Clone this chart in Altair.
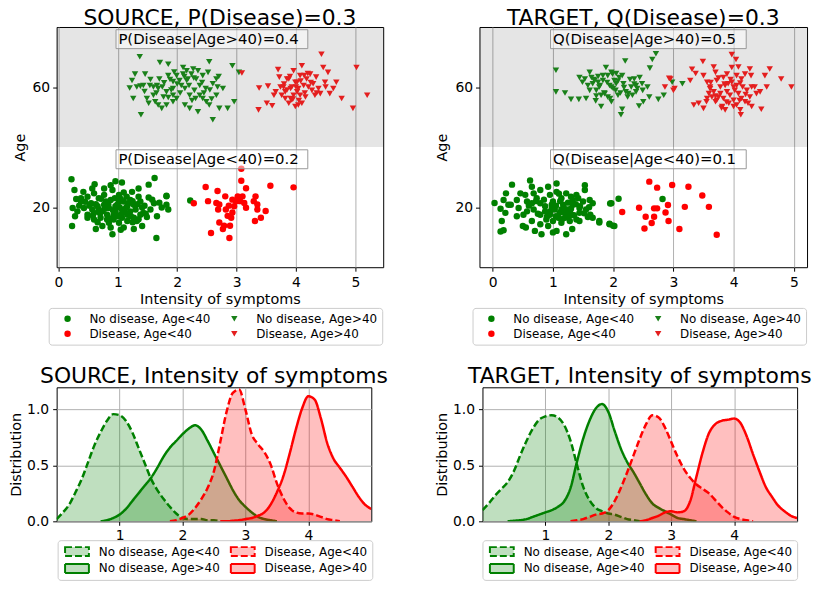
import altair as alt
import pandas as pd

FONT = "DejaVu Sans"
L_ND_Y = "No disease, Age<40"
L_ND_O = "No disease, Age>40"
L_D_Y = "Disease, Age<40"
L_D_O = "Disease, Age>40"
TOP_ORDER = [L_ND_Y, L_D_Y, L_ND_O, L_D_O]
BOT_ORDER = [L_ND_Y, L_ND_O, L_D_Y, L_D_O]

# ---------------- SOURCE scatter ----------------
src_nd_young_x = [0.22, 0.27, 0.23, 0.61, 0.42, 0.30, 0.38, 0.49, 0.60, 0.68, 0.77, 0.88, 0.96, 1.07, 1.10, 1.24, 1.35, 1.52, 1.62, 1.82,
                  1.52, 1.38, 1.21, 1.02, 0.88, 0.77, 0.66, 0.55, 0.43, 0.24, 0.32, 0.49, 0.60, 0.74, 0.85, 0.96, 1.07, 1.16, 1.27, 1.41,
                  1.61, 1.74, 1.85, 1.66, 1.49, 1.38, 1.27, 1.16, 1.05, 0.93, 0.82, 0.71, 0.60, 0.49, 0.63, 0.74, 0.88, 0.91, 0.85, 1.02,
                  1.10, 1.27, 1.41, 1.65, 0.93, 1.16, 1.32, 1.43, 1.55, 1.02, 0.91, 0.77, 0.57, 0.38, 1.21, 1.10, 1.82, 0.68, 0.80, 0.96,
                  1.07, 1.18, 1.30, 0.82, 0.99, 0.57, 1.35, 2.22, 1.82,
                  0.52, 0.63, 0.72, 0.84, 0.95, 1.05, 1.15, 1.25, 1.33, 1.45, 0.58, 0.70, 0.88, 1.00, 1.12, 1.22, 1.35, 1.47, 0.45, 0.35,
                  0.78, 0.92, 1.03, 1.14, 1.25, 0.66, 1.58, 1.70, 0.28, 1.05]
src_nd_young_y = [29.3, 25.7, 13.7, 27.6, 25.1, 22.7, 21.9, 23.5, 24.6, 23.0, 26.2, 27.3, 28.6, 28.2, 24.9, 25.1, 26.2, 27.5, 29.7, 23.8,
                  23.2, 21.9, 22.4, 21.9, 22.4, 20.8, 20.3, 21.3, 19.7, 19.7, 18.6, 17.5, 18.1, 18.6, 19.7, 20.3, 19.2, 20.3, 20.8, 19.9,
                  21.3, 19.9, 19.2, 17.0, 16.7, 17.5, 16.5, 17.5, 17.5, 17.5, 17.5, 16.5, 15.9, 16.5, 12.7, 13.7, 13.2, 11.0, 14.8, 14.8,
                  13.2, 12.7, 13.7, 9.7, 15.9, 15.4, 15.4, 18.1, 19.2, 24.1, 25.7, 24.1, 26.2, 23.0, 18.6, 21.9, 20.8, 19.2, 21.9, 18.6,
                  16.5, 21.3, 19.2, 15.9, 20.8, 19.2, 23.5, 22.2, 23.6,
                  20.5, 21.0, 22.8, 21.0, 23.0, 22.7, 23.5, 22.0, 21.0, 20.5, 17.2, 18.0, 16.2, 17.0, 18.2, 17.0, 16.0, 17.8, 21.8, 20.5,
                  19.5, 19.0, 20.0, 19.8, 15.0, 15.0, 22.5, 21.5, 17.0, 12.5]

src_d_young_x = [2.28, 2.48, 2.52, 2.57, 2.68, 2.66, 2.69, 2.71, 2.77, 2.81, 2.85, 2.88, 2.91, 2.93, 2.96, 2.87, 3.02, 3.06, 3.08, 3.08,
                 3.10, 3.13, 3.16, 3.32, 3.35, 3.31, 3.41, 3.49, 3.57, 3.96, 3.16, 2.93, 2.82, 2.71, 3.35, 3.29, 2.99, 2.89, 2.79]
src_d_young_y = [21.3, 26.7, 22.0, 11.4, 25.4, 21.4, 19.2, 14.9, 12.7, 23.6, 17.1, 9.7, 16.5, 22.5, 20.3, 20.5, 23.6, 22.0, 32.8, 28.8,
                 23.6, 21.4, 19.8, 23.6, 20.9, 15.4, 16.5, 18.7, 27.1, 26.6, 26.3, 18.2, 19.2, 20.9, 19.2, 22.0, 22.0, 13.8, 13.8]

src_nd_old_x = [1.37, 1.20, 1.24, 1.29, 1.38, 1.46, 1.54, 1.66, 1.49, 1.60, 1.71, 1.70, 1.78, 1.85, 1.85, 1.93, 1.82, 1.77, 1.74, 1.39,
                1.26, 1.52, 1.63, 1.68, 1.93, 1.93, 2.04, 2.10, 2.16, 2.24, 2.27, 2.32, 2.38, 2.29, 2.21, 2.13, 2.07, 1.99, 2.52, 2.54,
                2.60, 2.68, 2.66, 2.54, 2.49, 2.43, 2.35, 2.21, 2.13, 1.99, 2.60, 2.71, 2.85, 2.96, 2.93, 3.04, 2.77, 2.38, 2.43, 1.93,
                1.60, 1.43, 1.32, 2.35, 2.18, 2.31, 2.16, 2.48, 2.66, 1.82, 1.68,
                1.55, 1.75, 1.88, 2.00, 2.12, 2.20, 2.28, 2.42, 2.55, 1.65, 1.85, 2.05, 2.25, 2.45, 2.10, 1.95, 1.45, 2.70, 2.58, 1.90]
src_nd_old_y = [70.1, 59.7, 62.2, 64.3, 60.3, 64.3, 60.5, 60.5, 56.2, 57.3, 68.2, 62.7, 61.4, 67.6, 63.8, 61.8, 58.4, 56.7, 52.9, 50.8,
                56.2, 54.6, 55.1, 59.5, 57.3, 55.1, 62.2, 64.3, 65.4, 64.3, 66.0, 62.7, 60.5, 58.9, 57.3, 59.5, 60.5, 63.8, 64.9, 68.4,
                61.1, 60.0, 57.3, 54.0, 55.1, 56.2, 51.8, 52.9, 54.0, 56.2, 49.1, 52.9, 52.9, 55.1, 67.1, 64.9, 59.5, 57.3, 63.8, 59.5,
                60.0, 60.5, 60.0, 65.4, 62.7, 56.2, 62.2, 59.5, 62.7, 54.0, 54.0,
                62.5, 60.0, 62.5, 61.0, 63.5, 60.5, 63.0, 61.5, 59.0, 58.0, 56.5, 58.0, 55.5, 58.0, 66.5, 65.0, 58.5, 63.5, 56.0, 59.0]

src_d_old_x = [3.09, 3.38, 3.37, 3.53, 3.51, 3.60, 3.70, 3.72, 3.66, 3.76, 3.79, 3.82, 3.88, 3.91, 3.93, 3.96, 3.99, 4.02, 4.04, 4.07,
               4.10, 4.13, 4.16, 4.18, 4.24, 4.27, 4.34, 4.38, 4.43, 4.46, 4.49, 4.54, 4.57, 4.63, 4.68, 4.77, 4.96, 5.02, 5.20, 4.32,
               3.85, 3.96, 4.02, 4.07, 4.14, 3.88, 3.99, 3.93, 3.74, 4.04, 4.21, 4.29, 4.41, 3.82, 3.91, 4.10, 3.63,
               3.80, 3.90, 4.00, 4.08, 4.15, 4.25, 3.95, 4.05, 3.85, 4.20, 4.35, 4.50]
src_d_old_y = [64.7, 59.7, 52.4, 60.3, 54.6, 53.8, 65.8, 63.3, 58.4, 57.3, 60.0, 56.2, 62.7, 59.5, 55.7, 65.4, 61.6, 58.4, 54.0, 63.8,
               67.1, 60.5, 56.7, 62.7, 64.3, 58.9, 63.3, 59.5, 70.9, 66.5, 61.6, 64.9, 57.8, 59.5, 61.6, 56.2, 52.9, 66.5, 57.3, 57.3,
               62.7, 57.3, 61.6, 57.3, 63.8, 54.6, 53.5, 60.0, 60.0, 59.5, 60.0, 61.1, 57.8, 58.4, 56.2, 54.6, 57.3,
               61.0, 63.5, 60.0, 62.0, 58.0, 61.5, 56.0, 55.5, 59.0, 64.5, 58.0, 60.0]

# ---------------- TARGET scatter ----------------
tgt_nd_young_x = [0.03, 0.13, 0.21, 0.15, 0.13, 0.18, 0.18, 0.22, 0.32, 0.30, 0.40, 0.43, 0.40, 0.50, 0.55, 0.46, 0.54, 0.62, 0.65, 0.68,
                  0.73, 0.79, 0.65, 0.57, 0.68, 0.79, 0.65, 0.79, 0.81, 0.92, 0.70, 0.87, 0.92, 0.95, 1.00, 1.06, 1.06, 1.14, 1.22, 1.39,
                  1.53, 1.53, 1.50, 1.61, 1.66, 1.55, 1.44, 1.33, 1.25, 1.14, 1.03, 0.95, 1.09, 1.20, 1.31, 1.39, 1.28, 1.14, 1.06, 1.22,
                  1.32, 1.44, 1.58, 1.66, 1.77, 1.94, 2.02, 1.97, 2.09, 1.00, 0.89, 1.17, 1.33, 0.79, 0.57, 0.51, 0.26, 1.00, 0.87, 1.11,
                  1.28, 1.44, 1.22, 0.98, 2.00, 1.94, 2.82, 1.95, 1.77,
                  0.60, 0.72, 0.85, 0.95, 1.05, 1.12, 1.18, 1.25, 1.30, 1.38, 1.45, 1.52, 1.60, 1.05, 1.15, 1.25, 1.35, 0.90, 0.75, 1.42,
                  1.10, 1.20, 1.30, 0.98, 1.62]
tgt_nd_young_y = [21.4, 19.5, 18.1, 15.4, 11.9, 12.3, 22.4, 24.6, 27.5, 20.8, 22.4, 19.7, 17.0, 13.7, 13.2, 24.6, 24.1, 28.9, 26.8, 24.6,
                  23.0, 21.3, 21.3, 18.6, 19.2, 17.5, 15.4, 14.3, 11.0, 13.7, 12.1, 18.6, 26.8, 24.1, 21.9, 27.9, 25.1, 23.0, 24.6, 24.1,
                  27.3, 25.7, 21.9, 22.4, 21.3, 19.2, 19.7, 20.8, 19.2, 19.2, 19.2, 17.5, 16.5, 16.5, 17.5, 15.9, 15.4, 14.8, 12.1, 11.0,
                  12.7, 15.4, 16.7, 16.5, 15.4, 14.5, 13.7, 21.3, 22.8, 15.4, 15.9, 20.8, 22.4, 25.7, 21.9, 17.5, 20.8, 11.6, 20.3, 18.1,
                  18.6, 18.1, 17.5, 20.8, 13.8, 14.3, 22.7, 21.2, 14.9,
                  20.5, 22.0, 22.5, 18.5, 20.5, 22.0, 19.8, 21.5, 19.5, 21.0, 20.3, 18.0, 20.0, 17.0, 16.0, 16.8, 17.3, 16.8, 17.8, 23.0,
                  24.5, 18.0, 23.5, 19.5, 17.5]

tgt_d_young_x = [2.15, 2.43, 2.52, 2.54, 2.60, 2.64, 2.68, 2.68, 2.73, 2.73, 2.87, 2.91, 2.92, 2.98, 3.10, 3.19, 3.25, 3.48, 3.59, 3.72]
tgt_d_young_y = [18.4, 19.8, 12.9, 16.8, 28.5, 14.7, 16.8, 19.6, 26.5, 19.6, 18.2, 20.7, 15.4, 27.4, 12.7, 20.1, 26.8, 23.9, 20.1, 10.8]

tgt_nd_old_x = [1.05, 1.05, 1.20, 1.30, 1.43, 1.44, 1.49, 1.55, 1.61, 1.64, 1.66, 1.71, 1.75, 1.80, 1.77, 1.83, 1.88, 1.86, 1.91, 1.91,
                1.94, 1.97, 1.99, 2.02, 2.04, 2.08, 2.10, 2.15, 2.17, 2.20, 2.24, 2.30, 2.32, 2.35, 2.38, 2.44, 2.43, 2.48, 2.50, 2.49,
                2.57, 2.60, 2.61, 2.65, 2.71, 2.75, 2.84, 2.15, 2.13, 1.72, 1.61, 1.83, 2.05, 1.97, 1.69, 1.53, 2.21, 2.38, 1.80, 1.58,
                1.97, 1.75, 2.98, 3.15,
                1.68, 1.78, 1.90, 2.00, 2.08, 2.18, 2.28, 2.40, 1.85, 1.95, 2.12, 2.25, 1.72, 2.05, 2.35]
tgt_nd_old_y = [65.6, 58.4, 58.0, 55.9, 55.9, 63.2, 61.6, 56.2, 64.9, 63.2, 61.1, 55.4, 63.5, 53.5, 60.0, 62.2, 66.5, 57.8, 63.8, 56.7,
                60.5, 55.1, 64.3, 62.2, 58.9, 57.3, 63.2, 63.8, 61.1, 68.7, 56.7, 60.0, 57.3, 62.7, 60.5, 63.2, 53.7, 61.1, 55.1, 58.9,
                60.0, 56.7, 66.3, 69.2, 71.1, 55.9, 57.3, 52.6, 50.8, 58.9, 58.9, 63.8, 61.1, 60.0, 62.2, 62.7, 58.4, 58.4, 57.3, 60.5,
                64.9, 61.6, 61.6, 61.1,
                62.5, 60.5, 61.5, 59.5, 62.0, 59.8, 62.5, 59.5, 58.0, 56.2, 58.0, 57.8, 57.0, 64.5, 61.0]

tgt_d_old_x = [3.00, 2.95, 3.28, 3.31, 3.37, 3.49, 3.50, 3.56, 3.61, 3.67, 3.70, 3.72, 3.83, 3.86, 3.89, 3.91, 3.97, 3.97, 4.04, 4.05,
               4.08, 4.11, 4.13, 4.19, 4.27, 4.29, 4.30, 4.35, 4.44, 4.52, 4.55, 4.60, 4.79, 4.96, 3.34, 3.42, 3.50, 3.55, 3.59, 3.64,
               3.67, 3.72, 3.78, 3.81, 3.83, 3.86, 3.92, 3.94, 4.00, 4.05, 4.08, 4.11, 4.12, 4.19, 4.24, 4.27, 4.30, 4.46, 4.22, 4.38,
               3.61, 3.75, 4.00, 3.89, 4.02, 4.13, 3.97, 3.78, 3.70, 3.56, 2.93, 2.86, 3.02,
               3.62, 3.75, 3.85, 3.95, 4.05, 4.15, 3.70, 3.88, 4.00, 4.10, 4.20, 3.80]
tgt_d_old_y = [58.9, 62.7, 62.2, 65.9, 64.5, 68.5, 63.8, 61.6, 60.0, 66.7, 64.9, 62.2, 63.2, 60.5, 64.3, 61.1, 70.8, 66.5, 69.2, 63.8,
               66.7, 61.3, 62.7, 64.3, 66.0, 63.8, 60.0, 60.0, 58.4, 63.8, 60.0, 66.0, 62.7, 60.0, 54.0, 54.6, 52.9, 55.1, 57.8, 56.7,
               58.4, 55.6, 57.8, 53.5, 56.2, 52.4, 54.6, 57.3, 55.6, 54.0, 57.8, 52.4, 50.8, 55.1, 54.6, 56.7, 53.5, 52.6, 58.9, 57.8,
               59.4, 56.7, 60.0, 58.4, 58.9, 56.2, 61.6, 60.0, 55.1, 56.2, 62.9, 60.0, 59.5,
               61.5, 63.0, 61.0, 62.5, 60.5, 60.0, 57.0, 55.0, 53.5, 55.5, 57.5, 53.0]

# ---------------- density curves (x grid 0.0 .. 5.0) ----------------
N = None
dens_x = [0.0, 0.1, 0.2, 0.3, 0.4, 0.5, 0.6, 0.7, 0.8, 0.9, 1.0, 1.1, 1.2, 1.3, 1.4, 1.5, 1.6, 1.7, 1.8, 1.9,
          2.0, 2.1, 2.2, 2.3, 2.4, 2.5, 2.6, 2.7, 2.8, 2.9, 3.0, 3.1, 3.2, 3.3, 3.4, 3.5, 3.6, 3.7, 3.8, 3.9,
          4.0, 4.1, 4.2, 4.3, 4.4, 4.5, 4.6, 4.7, 4.8, 4.9, 5.0]
src_dens_nd_young = [0.02, 0.08, 0.15, 0.26, 0.38, 0.53, 0.68, 0.80, 0.90, 0.96, 0.95, 0.90, 0.80, 0.66, 0.52, 0.38, 0.28, 0.20, 0.13, 0.07,
                     0.03, 0.02, 0.02, 0.02, 0.01, 0.01, 0.0, N, N, N, N, N, N, N, N, N, N, N, N, N,
                     N, N, N, N, N, N, N, N, N, N, N]
src_dens_nd_old = [N, N, N, N, N, N, N, 0.0, 0.01, 0.03, 0.06, 0.11, 0.18, 0.25, 0.32, 0.39, 0.48, 0.58, 0.66, 0.72,
                   0.78, 0.83, 0.86, 0.82, 0.72, 0.61, 0.50, 0.39, 0.28, 0.19, 0.13, 0.08, 0.04, 0.02, 0.01, 0.0, N, N, N, N,
                   N, N, N, N, N, N, N, N, N, N, N]
src_dens_d_young = [N, N, N, N, N, N, N, N, N, N, N, N, N, N, N, N, N, N, 0.0, 0.01,
                    0.03, 0.06, 0.12, 0.20, 0.30, 0.45, 0.71, 0.98, 1.15, 1.18, 1.00, 0.78, 0.69, 0.62, 0.51, 0.34, 0.21, 0.12, 0.08, 0.07,
                    0.07, 0.06, 0.04, 0.02, 0.01, 0.0, N, N, N, N, N]
src_dens_d_old = [N, N, N, N, N, N, N, N, N, N, N, N, N, N, N, N, N, N, N, N,
                  N, N, N, N, N, N, 0.0, 0.0, 0.005, 0.01, 0.02, 0.03, 0.05, 0.08, 0.15, 0.26, 0.40, 0.60, 0.82, 1.01,
                  1.12, 1.09, 0.92, 0.70, 0.56, 0.48, 0.40, 0.31, 0.22, 0.15, 0.11]

tgt_dens_nd_young = [0.10, 0.16, 0.23, 0.29, 0.35, 0.45, 0.59, 0.72, 0.83, 0.91, 0.94, 0.95, 0.93, 0.86, 0.72, 0.51, 0.31, 0.19, 0.12, 0.09,
                     0.07, 0.06, 0.04, 0.02, 0.01, 0.0, N, N, N, N, N, N, N, N, N, N, N, N, N, N,
                     N, N, N, N, N, N, N, N, N, N, N]
tgt_dens_nd_old = [N, N, N, N, 0.0, 0.005, 0.01, 0.02, 0.04, 0.06, 0.08, 0.10, 0.13, 0.18, 0.30, 0.53, 0.74, 0.90, 1.01, 1.05,
                   0.98, 0.81, 0.65, 0.53, 0.44, 0.34, 0.24, 0.16, 0.12, 0.09, 0.06, 0.03, 0.02, 0.01, 0.0, N, N, N, N, N,
                   N, N, N, N, N, N, N, N, N, N, N]
tgt_dens_d_young = [N, N, N, N, N, N, N, N, N, N, N, N, N, N, 0.0, 0.01, 0.02, 0.04, 0.06, 0.07,
                    0.10, 0.18, 0.30, 0.44, 0.59, 0.74, 0.87, 0.95, 0.93, 0.84, 0.71, 0.58, 0.47, 0.39, 0.33, 0.29, 0.25, 0.19, 0.13, 0.08,
                    0.04, 0.02, 0.01, 0.0, N, N, N, N, N, N, N]
tgt_dens_d_old = [N, N, N, N, N, N, N, N, N, N, N, N, N, N, N, N, N, N, N, N,
                  N, N, N, N, N, 0.0, 0.01, 0.03, 0.05, 0.08, 0.09, 0.08, 0.09, 0.18, 0.40, 0.62, 0.79, 0.87, 0.90, 0.91,
                  0.92, 0.88, 0.76, 0.60, 0.45, 0.31, 0.22, 0.14, 0.09, 0.05, 0.03]

# ---------------- annotations ----------------
src_notes = ["P(Disease|Age>40)=0.4", "P(Disease|Age<40)=0.2"]
tgt_notes = ["Q(Disease|Age>40)=0.5", "Q(Disease|Age<40)=0.1"]
NOTE_Y = [76, 36]
BOX = {"y0": [72.8, 32.8], "y1": [79.1, 39.1]}

AX = dict(labelFontSize=14, titleFontSize=14.5, titleFontWeight="normal", labelColor="black", titleColor="black",
          tickColor="black", tickSize=4, domain=False, gridColor="#b0b0b0", gridWidth=1, labelFont=FONT, titleFont=FONT)

TOP_W, TOP_H = 329, 242
BOT_W, BOT_H = 317, 135


def scatter_df(parts):
    rows = []
    for lab, xs, ys in parts:
        for a, b in zip(xs, ys):
            rows.append({"x": a, "age": b, "group": lab})
    return pd.DataFrame(rows)


def scatter_panel(df, title, notes, xdom, box_x, width, height, legx):
    xs = alt.Scale(domain=xdom, nice=False, zero=False)
    ys = alt.Scale(domain=[0, 80], nice=False)
    xt = "Intensity of symptoms"
    band = alt.Chart(pd.DataFrame({"k": [0]})).mark_rect(color="black", opacity=0.1).encode(
        x=alt.value(0), x2=alt.value(width), y=alt.datum(40, scale=ys), y2=alt.datum(80))
    leg = alt.Legend(title=None, orient="none", legendX=legx, legendY=height + 41, columns=2, symbolOffset=8,
                     labelOffset=16, columnPadding=10)
    pts = alt.Chart(df).mark_point(filled=True, opacity=1, strokeWidth=0).encode(
        x=alt.X("x:Q", scale=xs, title=xt, axis=alt.Axis(values=[0, 1, 2, 3, 4, 5], format="d", labelPadding=4,
                                                          titlePadding=4, **AX)),
        y=alt.Y("age:Q", scale=ys, title="Age", axis=alt.Axis(values=[20, 60], labelPadding=3, titlePadding=5, **AX)),
        color=alt.Color("group:N", scale=alt.Scale(domain=TOP_ORDER, range=["#008000", "#ff0000", "#1a801a", "#e41e1e"]), legend=leg),
        shape=alt.Shape("group:N", scale=alt.Scale(domain=TOP_ORDER, range=["circle", "circle", "triangle-down", "triangle-down"]), legend=leg),
        size=alt.Size("group:N", scale=alt.Scale(domain=TOP_ORDER, range=[42, 42, 75, 75]), legend=leg),
    )
    ann = pd.DataFrame({"label": notes, "ty": NOTE_Y, "tx": [box_x[0] + 0.04] * 2, "x0": [box_x[0]] * 2, "x1": [box_x[1]] * 2,
                        "y0": BOX["y0"], "y1": BOX["y1"]})
    boxes = alt.Chart(ann).mark_rect(fill="white", fillOpacity=0.5, stroke="#999999", strokeWidth=1).encode(
        x=alt.X("x0:Q", scale=xs, title=xt), x2="x1:Q", y=alt.Y("y0:Q", scale=ys, title="Age"), y2="y1:Q")
    texts = alt.Chart(ann).mark_text(align="left", baseline="middle", fontSize=15, font=FONT, color="black").encode(
        x=alt.X("tx:Q", scale=xs, title=xt), y=alt.Y("ty:Q", scale=ys, title="Age"), text="label:N")
    return alt.layer(band, pts, boxes, texts).properties(
        width=width, height=height,
        title=alt.TitleParams(title, fontSize=22, fontWeight="normal", font=FONT, anchor="middle", offset=-3, color="black"))


def density_panel(curves, title, width, height, legx):
    rows = []
    for lab, ys in curves:
        for a, b in zip(dens_x, ys):
            if b is not None:
                rows.append({"x": a, "d": b, "group": lab})
    df = pd.DataFrame(rows)
    xs = alt.Scale(domain=[0, 5], nice=False, zero=False)
    ys = alt.Scale(domain=[0, 1.2], nice=False)
    leg = alt.Legend(title=None, orient="none", legendX=legx, legendY=height + 19, columns=2, symbolOffset=8.5,
                     labelOffset=16, columnPadding=8, rowPadding=4, clipHeight=13, symbolType="M-4,-1.5H4V1.5H-4Z",
                     symbolSize=36, symbolStrokeWidth=2)
    fill_sc = alt.Scale(domain=BOT_ORDER, range=["rgba(0,128,0,0.25)", "rgba(0,128,0,0.25)", "rgba(255,0,0,0.25)", "rgba(255,0,0,0.25)"])
    stroke_sc = alt.Scale(domain=BOT_ORDER, range=["#008000", "#008000", "#ff0000", "#ff0000"])
    dash_sc = alt.Scale(domain=BOT_ORDER, range=[[7, 3], [1, 0], [7, 3], [1, 0]])
    X = alt.X("x:Q", scale=xs, title=None, axis=alt.Axis(values=[1, 2, 3, 4], format="d", labelPadding=3, **AX))
    Y = alt.Y("d:Q", scale=ys, title="Distribution", axis=alt.Axis(values=[0, 0.5, 1.0], format=".1f", labelPadding=4,
                                                                    titlePadding=3, **AX))
    layers = []
    for lab in [L_ND_Y, L_ND_O, L_D_Y, L_D_O]:
        base = alt.Chart(df).transform_filter(alt.datum.group == lab)
        layers.append(base.mark_area(interpolate="monotone", clip=True).encode(
            x=X, y=Y, fill=alt.Fill("group:N", scale=fill_sc, legend=leg)))
        layers.append(base.mark_line(interpolate="monotone", clip=True, strokeWidth=2.5).encode(
            x=X, y=Y, stroke=alt.Stroke("group:N", scale=stroke_sc, legend=leg),
            strokeDash=alt.StrokeDash("group:N", scale=dash_sc, legend=leg)))
    return alt.layer(*layers).properties(
        width=width, height=height,
        title=alt.TitleParams(title, fontSize=22, fontWeight="normal", font=FONT, anchor="middle", offset=-1, color="black"))


src_df = scatter_df([(L_ND_Y, src_nd_young_x, src_nd_young_y), (L_D_Y, src_d_young_x, src_d_young_y),
                     (L_ND_O, src_nd_old_x, src_nd_old_y), (L_D_O, src_d_old_x, src_d_old_y)])
tgt_df = scatter_df([(L_ND_Y, tgt_nd_young_x, tgt_nd_young_y), (L_D_Y, tgt_d_young_x, tgt_d_young_y),
                     (L_ND_O, tgt_nd_old_x, tgt_nd_old_y), (L_D_O, tgt_d_old_x, tgt_d_old_y)])

A = scatter_panel(src_df, "SOURCE, P(Disease)=0.3", src_notes, [-0.03, 5.47], [0.97, 4.2], TOP_W, TOP_H, -8)
B = scatter_panel(tgt_df, "TARGET, Q(Disease)=0.3", tgt_notes, [-0.22, 5.22], [0.96, 4.21], TOP_W + 1, TOP_H, -7)
C = density_panel([(L_ND_Y, src_dens_nd_young), (L_ND_O, src_dens_nd_old), (L_D_Y, src_dens_d_young), (L_D_O, src_dens_d_old)],
                  "SOURCE, Intensity of symptoms", BOT_W, BOT_H, 1)
D = density_panel([(L_ND_Y, tgt_dens_nd_young), (L_ND_O, tgt_dens_nd_old), (L_D_Y, tgt_dens_d_young), (L_D_O, tgt_dens_d_old)],
                  "TARGET, Intensity of symptoms", BOT_W, BOT_H, 0)

top_row = alt.hconcat(A, B, spacing=97, bounds="flush").resolve_scale(
    color="independent", shape="independent", size="independent", x="independent")
bot_row = alt.hconcat(C, D, spacing=112, bounds="flush").resolve_scale(
    fill="independent", stroke="independent", strokeDash="independent", x="independent")

chart = alt.vconcat(top_row, bot_row, spacing=19).resolve_scale(
    color="independent", shape="independent", size="independent", fill="independent", stroke="independent",
    strokeDash="independent", x="independent", y="independent").properties(
    padding={"left": 0, "top": -4, "right": 0, "bottom": 0}, background="white"
).configure(font=FONT).configure_view(
    stroke="black", strokeWidth=1
).configure_legend(
    labelFontSize=12, labelFont=FONT, labelColor="black", fillColor="white", strokeColor="#cccccc", cornerRadius=3,
    padding=5, rowPadding=3, symbolStrokeWidth=0, symbolSize=30
)

chart.save("out.html", embed_options={"renderer": "svg", "actions": False})
